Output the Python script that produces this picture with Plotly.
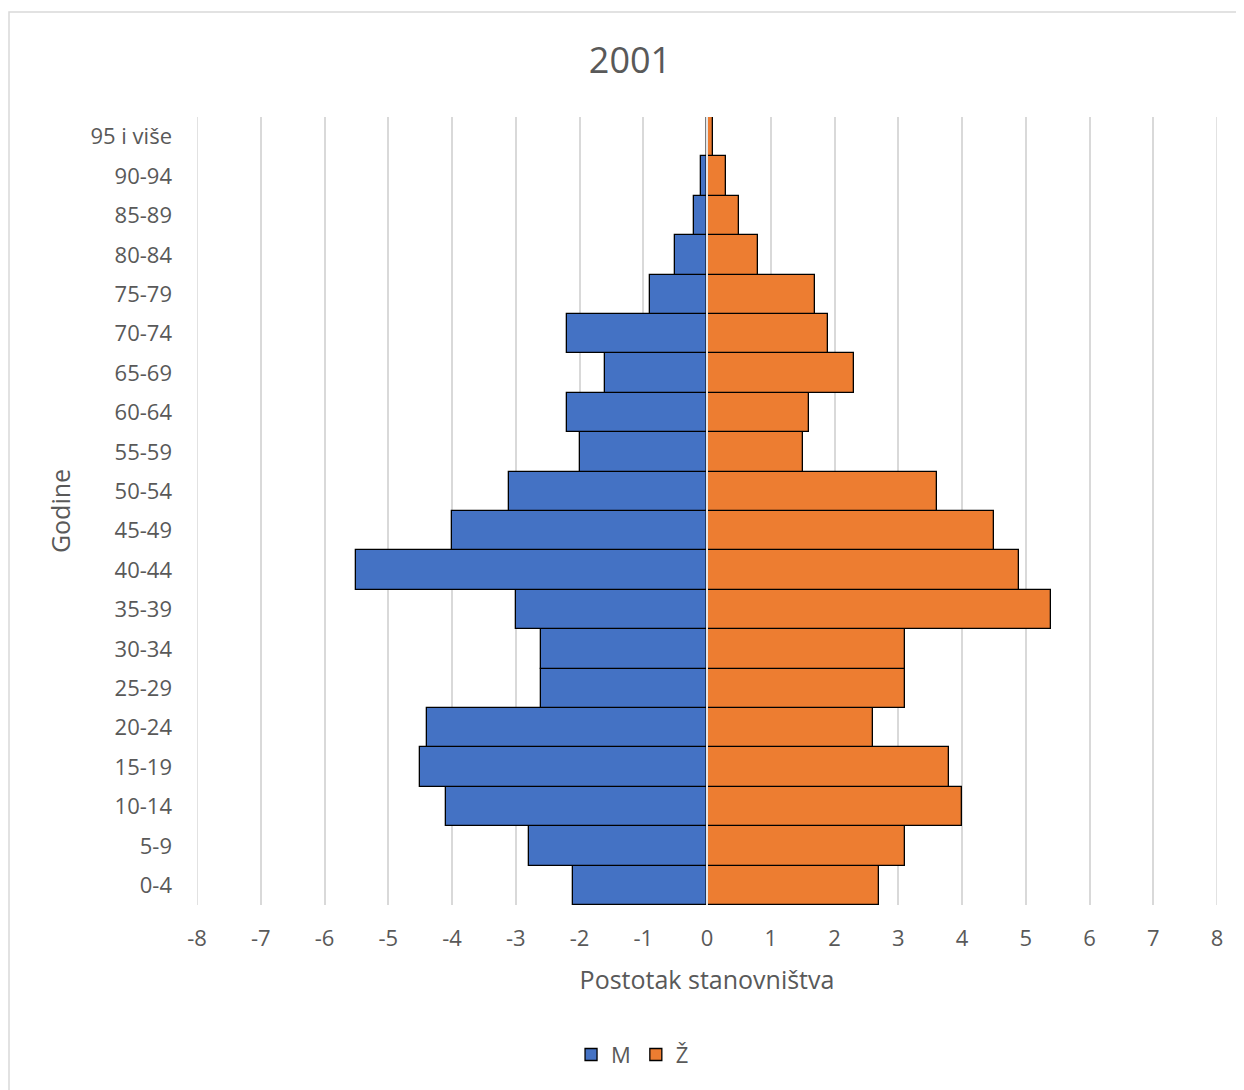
import plotly.graph_objects as go

age_groups = ["0-4", "5-9", "10-14", "15-19", "20-24", "25-29", "30-34", "35-39",
              "40-44", "45-49", "50-54", "55-59", "60-64", "65-69", "70-74",
              "75-79", "80-84", "85-89", "90-94", "95 i više"]
male = [-2.1, -2.8, -4.1, -4.5, -4.4, -2.6, -2.6, -3.0, -5.5, -4.0, -3.1,
        -2.0, -2.2, -1.6, -2.2, -0.9, -0.5, -0.2, -0.1, 0.0]
female = [2.7, 3.1, 4.0, 3.8, 2.6, 3.1, 3.1, 5.4, 4.9, 4.5, 3.6,
          1.5, 1.6, 2.3, 1.9, 1.7, 0.8, 0.5, 0.3, 0.1]
x_ticks = list(range(-8, 9))

font_family = "Open Sans, Liberation Sans, sans-serif"
grey = "#595959"

fig = go.Figure()
fig.add_trace(go.Bar(y=age_groups, x=male, orientation="h", name="M",
                     marker=dict(color="#4472C4", line=dict(color="black", width=1.3))))
fig.add_trace(go.Bar(y=age_groups, x=female, orientation="h", name="Ž",
                     marker=dict(color="#ED7D31", line=dict(color="black", width=1.3))))

# page body has an 8px margin; margins compensate so plot area sits at 197..1217 x 117..905
fig.update_layout(
    width=1244, height=1090,
    barmode="relative", bargap=0,
    paper_bgcolor="white", plot_bgcolor="white",
    margin=dict(l=189, r=35, t=109, b=193),
    font=dict(family=font_family, color=grey, size=22),
    title=dict(text="2001", x=0.5, xanchor="center", xref="container",
               y=1 - 52 / 1090, yanchor="middle",
               font=dict(size=36, color=grey, family=font_family)),
    legend=dict(orientation="h", x=0.427, xanchor="center", y=-0.19, yanchor="middle",
                font=dict(size=22, color=grey), traceorder="normal",
                itemwidth=30),
    xaxis=dict(range=[-8, 8], tickvals=x_ticks, ticktext=[str(v) for v in x_ticks],
               showgrid=True, gridcolor="#d9d9d9", gridwidth=1.5, zeroline=False,
               showline=False, ticks="", ticklabelstandoff=18,
               title=dict(text="Postotak stanovništva", font=dict(size=25, color=grey), standoff=20)),
    yaxis=dict(showgrid=False, zeroline=False, showline=False, ticks="",
               ticklabelstandoff=24,
               title=dict(text="Godine", font=dict(size=25, color=grey), standoff=12)),
    shapes=[
        dict(type="line", xref="x", yref="paper", x0=0, x1=0, y0=0, y1=1,
             line=dict(color="#e6e6e6", width=2), layer="above"),
        dict(type="line", xref="x", yref="paper", x0=-8, x1=-8, y0=0, y1=1,
             line=dict(color="#d9d9d9", width=1.5), layer="below"),
        dict(type="line", xref="x", yref="paper", x0=8, x1=8, y0=0, y1=1,
             line=dict(color="#d9d9d9", width=1.5), layer="below"),
        dict(type="rect", xref="paper", yref="paper",
             x0=(9 - 197) / 1020, x1=1.1, y0=-0.5, y1=(905 - 12) / 788,
             line=dict(color="#d9d9d9", width=1.5), layer="below"),
    ],
)

fig.write_html("out.html")
